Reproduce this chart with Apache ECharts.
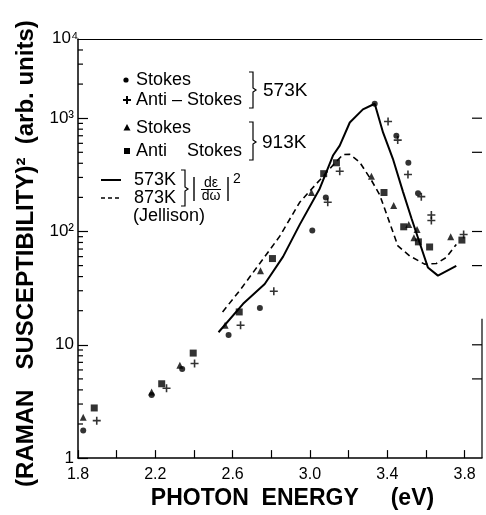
<!DOCTYPE html>
<html><head><meta charset="utf-8">
<script src="https://cdn.jsdelivr.net/npm/echarts@6/dist/echarts.min.js"></script>
<style>html,body{margin:0;padding:0;background:#fff}#c{width:486px;height:515px}</style>
</head><body><div id="c"></div>
<script>
// ---- data (photon energy eV, Raman susceptibility^2 arb. units) ----
const stokes573 = [[1.827,1.75],[2.181,3.61],[2.339,6.13],[2.579,12.2],[2.741,21.1],[3.012,102],[3.082,200],[3.335,1341],[3.447,700],[3.509,404],[3.559,217]];
const antiStokes573 = [[1.897,2.14],[2.258,4.13],[2.403,6.83],[2.641,14.9],[2.813,29.7],[3.092,181],[3.154,340],[3.404,934],[3.454,641],[3.507,318],[3.576,203],[3.628,140],[3.628,125],[3.795,94]];
const stokes913 = [[1.827,2.29],[2.181,3.84],[2.327,6.6],[2.561,14.9],[2.744,45.1],[3.008,221],[3.318,307],[3.433,170],[3.511,115],[3.554,104],[3.538,88],[3.728,90]];
const antiStokes913 = [[1.884,2.77],[2.233,4.53],[2.396,8.45],[2.634,19.5],[2.806,57.7],[3.071,324],[3.137,404],[3.383,221],[3.485,110],[3.561,81],[3.619,73],[3.786,84]];
const jellison573 = [[2.527,12.9],[2.654,23.0],[2.766,34.4],[2.861,60],[2.947,115],[3.051,240],[3.119,468],[3.154,572],[3.206,916],[3.274,1196],[3.335,1341],[3.378,749],[3.429,438],[3.481,225],[3.525,131],[3.576,71.9],[3.610,48.2],[3.662,40.8],[3.757,49.8]];
const jellison873 = [[2.548,19.5],[2.637,30.2],[2.741,52.4],[2.844,91],[2.947,181],[3.051,285],[3.119,385],[3.171,478],[3.206,480],[3.257,410],[3.318,283],[3.361,210],[3.404,131],[3.455,74.5],[3.516,60.9],[3.593,51.5],[3.654,52.2],[3.705,58.9],[3.757,76.9]];
const xLabelValues = [1.8, 2.2, 2.6, 3.0, 3.4, 3.8];
const yLabelText = {0:'1', 1:'10', 2:'10²', 3:'10³'};
const leftMinorTicks = [2,3,4,5,6,7,8,9,20,30,40,50,60,70,80,90,200,300,400,500,600,700,800,900,2000,3000,4000];
const rightTicks = [5,10,50,100,500,1000];
const xMin = 1.8, xMax = 3.89, yMin = 1, yMax = 5000;

const chart = echarts.init(document.getElementById('c'), null, {renderer:'canvas'});
const F = "'Liberation Sans', Arial, sans-serif";
const plusPath = 'path://M4,0h2v4h4v2h-4v4h-2v-4h-4v-2h4z';

function tickItem(side, len){
  return function(params, api){
    const p = api.coord([api.value(0), api.value(1)]);
    const d = side === 'left' ? len : -len;
    return {type:'line', shape:{x1:p[0], y1:p[1], x2:p[0]+d, y2:p[1]}, style:{stroke:'#000', lineWidth:1.2}, silent:true};
  };
}

const option = {
  backgroundColor:'#fff',
  animation:false,
  grid:{left:78, right:4, top:39, bottom:52},
  xAxis:[{
    type:'value', min:xMin, max:xMax, interval:0.2,
    axisLine:{lineStyle:{color:'#000', width:1.5}},
    axisTick:{inside:true, length:8, lineStyle:{color:'#000', width:1.2}},
    splitLine:{show:false},
    axisLabel:{color:'#000', fontFamily:F, fontSize:16, margin:8, showMaxLabel:false,
      formatter:v => xLabelValues.some(t => Math.abs(t - v) < 1e-6) ? v.toFixed(1) : ''},
    name:'PHOTON  ENERGY     (eV)', nameLocation:'middle', nameGap:19,
    nameTextStyle:{color:'#000', fontFamily:F, fontWeight:'bold', fontSize:23, padding:[0,0,0,25]}
  },{
    type:'value', position:'top', min:xMin, max:xMax,
    axisLine:{show:true, lineStyle:{color:'#000', width:1.2}},
    axisTick:{show:false}, axisLabel:{show:false}, splitLine:{show:false}
  }],
  yAxis:[{
    type:'log', logBase:10, min:yMin, max:yMax,
    axisLine:{show:true, lineStyle:{color:'#000', width:1.5}},
    axisTick:{inside:true, length:10, lineStyle:{color:'#000', width:1.2}},
    splitLine:{show:false}, minorTick:{show:false},
    axisLabel:{color:'#000', fontFamily:F, fontSize:17, margin:4, showMaxLabel:false,
      formatter:v => { const e = Math.round(Math.log10(v)); return Math.abs(Math.log10(v)-e) < 1e-6 && yLabelText[e] !== undefined ? yLabelText[e] : ''; }},
    name:'(RAMAN   SUSCEPTIBILITY)²  (arb. units)', nameLocation:'middle', nameGap:17, nameRotate:90,
    nameTextStyle:{color:'#000', fontFamily:F, fontWeight:'bold', fontSize:24, padding:[0,10,0,0]}
  }],
  series:[
    {name:'573K fit', type:'line', data:jellison573, symbol:'none', smooth:false, lineStyle:{color:'#000', width:2}, z:2},
    {name:'873K fit', type:'line', data:jellison873, symbol:'none', smooth:false, lineStyle:{color:'#000', width:1.6, type:[6,4]}, z:2},
    {name:'Stokes 573K', type:'scatter', data:stokes573, symbol:'circle', symbolSize:6, itemStyle:{color:'#000'}, z:3},
    {name:'Anti-Stokes 573K', type:'scatter', data:antiStokes573, symbol:plusPath, symbolSize:8, itemStyle:{color:'#000'}, z:3},
    {name:'Stokes 913K', type:'scatter', data:stokes913, symbol:'triangle', symbolSize:7, itemStyle:{color:'#000'}, z:3},
    {name:'Anti Stokes 913K', type:'scatter', data:antiStokes913, symbol:'rect', symbolSize:7, itemStyle:{color:'#000'}, z:3},
    {type:'custom', renderItem:tickItem('left',5), data:leftMinorTicks.map(v => [xMin, v]), silent:true, clip:false, z:4},
    {type:'custom', renderItem:tickItem('right',10), data:rightTicks.map(v => [xMax, v]), silent:true, clip:false, z:4},
    {type:'line', data:[[xMax,1],[xMax,17]], symbol:'none', lineStyle:{color:'#000', width:1.2}, silent:true, z:4}
  ],
  graphic:[
    {type:'text', left:52, top:30, style:{text:'10⁴', font:'17px '+F, fill:'#000'}},
    // legend markers
    {type:'circle', shape:{cx:126, cy:80, r:2.6}, style:{fill:'#000'}},
    {type:'rect', shape:{x:123, y:99, width:8, height:2}, style:{fill:'#000'}},
    {type:'rect', shape:{x:126, y:96, width:2, height:8}, style:{fill:'#000'}},
    {type:'polygon', shape:{points:[[127,124],[123.5,130.5],[130.5,130.5]]}, style:{fill:'#000'}},
    {type:'rect', shape:{x:124, y:148, width:6, height:6}, style:{fill:'#000'}},
    {type:'text', left:136, top:71, style:{text:'Stokes', font:'18px '+F, fill:'#000'}},
    {type:'text', left:136, top:91, style:{text:'Anti – Stokes', font:'18px '+F, fill:'#000'}},
    {type:'text', left:136, top:119, style:{text:'Stokes', font:'18px '+F, fill:'#000'}},
    {type:'text', left:136, top:142, style:{text:'Anti    Stokes', font:'18px '+F, fill:'#000'}},
    {type:'polyline', shape:{points:[[249,72],[253,72],[253,88],[256,90],[253,92],[253,108],[249,108]]}, style:{stroke:'#000', lineWidth:1.2, fill:null}},
    {type:'text', left:263, top:81, style:{text:'573K', font:'19px '+F, fill:'#000'}},
    {type:'polyline', shape:{points:[[249,122],[253,122],[253,140],[256,142],[253,144],[253,160],[249,160]]}, style:{stroke:'#000', lineWidth:1.2, fill:null}},
    {type:'text', left:262, top:133, style:{text:'913K', font:'19px '+F, fill:'#000'}},
    {type:'line', shape:{x1:101, y1:180, x2:121, y2:180}, style:{stroke:'#000', lineWidth:2}},
    {type:'line', shape:{x1:101, y1:198, x2:121, y2:198}, style:{stroke:'#000', lineWidth:1.6, lineDash:[4,3]}},
    {type:'text', left:134, top:171, style:{text:'573K', font:'18px '+F, fill:'#000'}},
    {type:'text', left:134, top:189, style:{text:'873K', font:'18px '+F, fill:'#000'}},
    {type:'text', left:133, top:207, style:{text:'(Jellison)', font:'18px '+F, fill:'#000'}},
    {type:'polyline', shape:{points:[[181,170],[185,170],[185,187],[188,189],[185,191],[185,206],[181,206]]}, style:{stroke:'#000', lineWidth:1.2, fill:null}},
    {type:'line', shape:{x1:194, y1:177, x2:194, y2:201}, style:{stroke:'#000', lineWidth:1.4}},
    {type:'text', x:211, y:183, style:{text:'dε', font:'14px '+F, fill:'#000', align:'center', verticalAlign:'middle'}},
    {type:'line', shape:{x1:201, y1:189.5, x2:221, y2:189.5}, style:{stroke:'#000', lineWidth:1}},
    {type:'text', x:211, y:196, style:{text:'dω', font:'14px '+F, fill:'#000', align:'center', verticalAlign:'middle'}},
    {type:'line', shape:{x1:228, y1:177, x2:228, y2:201}, style:{stroke:'#000', lineWidth:1.4}},
    {type:'text', left:233, top:172, style:{text:'2', font:'14px '+F, fill:'#000'}}
  ]
};
chart.setOption(option);
</script></body></html>
